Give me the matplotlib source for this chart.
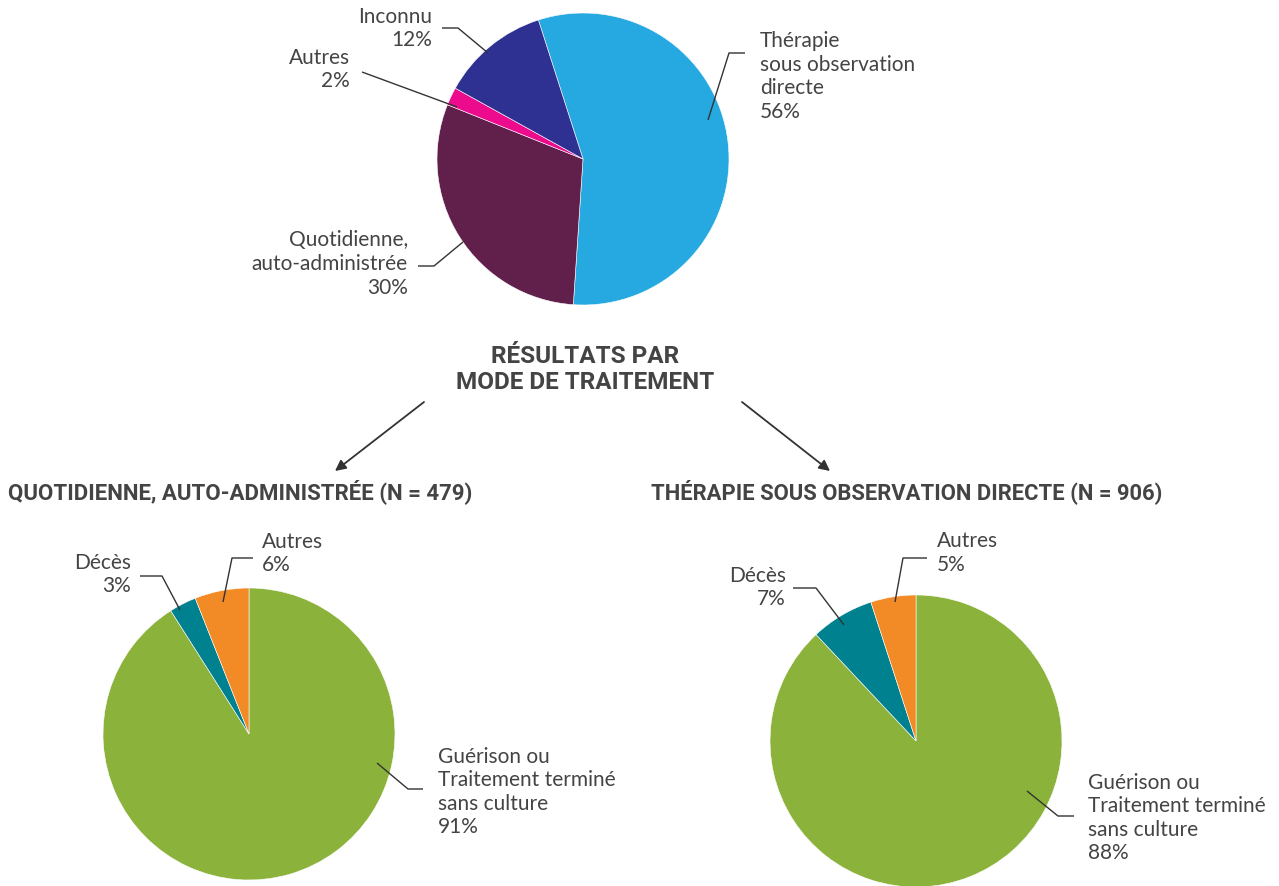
import numpy as np
import matplotlib.pyplot as plt

H = 886

# donnees (pourcentages)
mode_labels = ["Thérapie\nsous observation\ndirecte", "Quotidienne,\nauto-administrée", "Autres", "Inconnu"]
mode_vals = [56, 30, 2, 12]
mode_colors = ["#25a9e0", "#611f4c", "#ec0b8d", "#2e3192"]

res_labels = ["Guérison ou\nTraitement terminé\nsans culture", "Décès", "Autres"]
res_quot = [91, 3, 6]
res_dot = [88, 7, 5]
res_colors = ["#8bb23a", "#00818f", "#f28a25"]

titre = "RÉSULTATS PAR\nMODE DE TRAITEMENT"
sous_titres = ["QUOTIDIENNE, AUTO-ADMINISTRÉE (N = 479)",
               "THÉRAPIE SOUS OBSERVATION DIRECTE (N = 906)"]

txt_col = "#444444"
line_col = "#333333"
body_font = ["Lato", "DejaVu Sans"]
head_font = ["Roboto", "DejaVu Sans"]

fig = plt.figure(figsize=(12.79, 8.86), dpi=100)
ax = fig.add_axes([0, 0, 1, 1])


def Y(y):
    return H - y


def label(x, y, s, ha):
    ax.text(x, Y(y), s, ha=ha, va="center", ma=ha, fontsize=15,
            color=txt_col, family=body_font, linespacing=1.22)


def leader(pts):
    xs = [p[0] for p in pts]
    ys = [Y(p[1]) for p in pts]
    ax.plot(xs, ys, color=line_col, lw=1.0, solid_capstyle="butt")


wp = dict(edgecolor="white", linewidth=0.4)

# camembert du haut : mode de traitement
ax.pie(mode_vals, colors=mode_colors, startangle=107.8, counterclock=False,
       center=(583, Y(159)), radius=146, wedgeprops=wp)

# camemberts du bas : resultats
ax.pie(res_quot, colors=res_colors, startangle=90, counterclock=False,
       center=(249, Y(734)), radius=146, wedgeprops=wp)
ax.pie(res_dot, colors=res_colors, startangle=90, counterclock=False,
       center=(916, Y(741)), radius=146, wedgeprops=wp)

ax.set_xlim(0, 1279)
ax.set_ylim(0, H)
ax.set_aspect("auto")
ax.axis("off")

# etiquettes haut
label(432, 28.5, f"Inconnu\n{mode_vals[3]}%", "right")
leader([(442, 28), (458, 28), (488, 53)])
label(350, 69.5, f"Autres\n{mode_vals[2]}%", "right")
leader([(362, 72), (457, 107)])
label(760, 76.5, f"{mode_labels[0]}\n{mode_vals[0]}%", "left")
leader([(745, 53), (729, 53), (708, 120)])
label(408, 264, f"{mode_labels[1]}\n{mode_vals[1]}%", "right")
leader([(418, 266), (434, 266), (463, 242)])

# etiquettes bas gauche
label(131, 574.5, f"{res_labels[1]}\n{res_quot[1]}%", "right")
leader([(140, 576), (162, 576), (180, 610)])
label(262, 553.5, f"{res_labels[2]}\n{res_quot[2]}%", "left")
leader([(253, 558), (232, 558), (223, 602)])
label(438, 792, f"{res_labels[0]}\n{res_quot[0]}%", "left")
leader([(423, 789), (408, 789), (377, 763)])

# etiquettes bas droite
label(786, 587.5, f"{res_labels[1]}\n{res_dot[1]}%", "right")
leader([(793, 588), (816, 588), (844, 625)])
label(937, 553, f"{res_labels[2]}\n{res_dot[2]}%", "left")
leader([(927, 558), (903, 558), (895, 602)])
label(1088, 818, f"{res_labels[0]}\n{res_dot[0]}%", "left")
leader([(1074, 816), (1058, 816), (1027, 791)])

# titres
ax.text(585, Y(369.5), titre, ha="center", va="center", fontsize=17.5,
        fontweight="bold", color=txt_col, family=head_font, linespacing=1.2)
ax.text(8, Y(492), sous_titres[0], ha="left", va="center", fontsize=16,
        fontweight="bold", color=txt_col, family=head_font)
ax.text(651, Y(492), sous_titres[1], ha="left", va="center", fontsize=15.8,
        fontweight="bold", color=txt_col, family=head_font)

# fleches
for x0, x1 in [(424, 335), (742, 830)]:
    ax.annotate("", xy=(x1, Y(471)), xytext=(x0, Y(402)),
                arrowprops=dict(arrowstyle="-|>", color=line_col, lw=1.3,
                                mutation_scale=16, shrinkA=0, shrinkB=0))

fig.savefig("out.png", dpi=100, facecolor="white")
